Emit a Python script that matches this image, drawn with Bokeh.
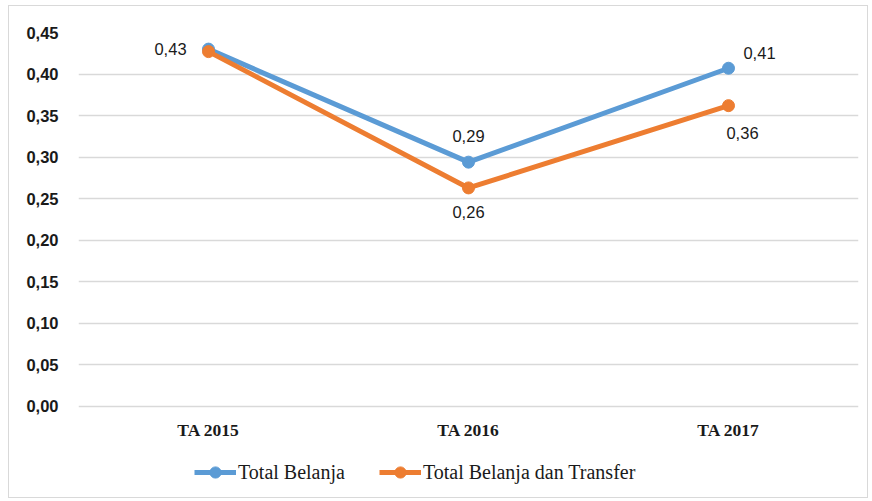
from bokeh.plotting import figure
from bokeh.models import FactorRange, Range1d, FixedTicker, CustomJSTickFormatter, Legend, LegendItem, ColumnDataSource
from bokeh.core.properties import value
from bokeh.embed import file_html
from bokeh.resources import INLINE

categories = ["TA 2015", "TA 2016", "TA 2017"]
total_belanja = [0.43, 0.294, 0.407]
total_belanja_transfer = [0.427, 0.263, 0.362]
labels_belanja = ["0,43", "0,29", "0,41"]
labels_transfer = ["", "0,26", "0,36"]
y_ticks = [0.0, 0.05, 0.10, 0.15, 0.20, 0.25, 0.30, 0.35, 0.40, 0.45]

BLUE = "#5B9BD5"
ORANGE = "#ED7D31"
TXT = "#1a1a1a"

# frame extends below the 0 line so the category labels and legend sit inside it
p = figure(x_range=FactorRange(*categories), y_range=Range1d(-0.1083, 0.45),
           width=860, height=493, output_backend="svg", toolbar_location=None,
           min_border_left=69, min_border_right=11, min_border_top=26, min_border_bottom=3)
p.styles = {"border": "1px solid #d9d9d9", "box-sizing": "border-box",
            "margin-left": "8px", "margin-top": "5px"}
p.outline_line_color = None
p.background_fill_color = "white"

p.yaxis.ticker = FixedTicker(ticks=y_ticks)
p.yaxis.formatter = CustomJSTickFormatter(code="return tick.toFixed(2).replace('.', ',');")
p.yaxis.axis_line_color = None
p.yaxis.major_tick_line_color = None
p.yaxis.minor_tick_line_color = None
p.yaxis.major_label_text_font = "Liberation Sans"
p.yaxis.major_label_text_font_style = "bold"
p.yaxis.major_label_text_font_size = "16.5px"
p.yaxis.major_label_text_color = TXT
p.yaxis.major_label_standoff = 14

p.xaxis.visible = False
p.xgrid.grid_line_color = None
p.ygrid.grid_line_color = "#d9d9d9"
p.ygrid.grid_line_width = 1.5

src = ColumnDataSource(dict(x=categories, b=total_belanja, t=total_belanja_transfer))

# category labels just under the zero line
p.text(x="x", y=0, text="x", source=src, y_offset=24, text_align="center",
       text_baseline="middle", text_font=value("Liberation Serif"),
       text_font_style="bold", text_font_size="17.5px", text_color=TXT)

l1 = p.line("x", "b", source=src, line_color=BLUE, line_width=5)
c1 = p.scatter("x", "b", source=src, size=12, fill_color=BLUE, line_color=BLUE)
l2 = p.line("x", "t", source=src, line_color=ORANGE, line_width=5)
c2 = p.scatter("x", "t", source=src, size=12, fill_color=ORANGE, line_color=ORANGE)

font = value("Liberation Sans")
bpos = [(0, -38, 0), (1, 0, -26), (2, 31, -15)]
for i, dx, dy in bpos:
    p.text(x=[categories[i]], y=[total_belanja[i]], text=[labels_belanja[i]],
           x_offset=dx, y_offset=dy, text_align="center", text_baseline="middle",
           text_font=font, text_font_size="16.5px", text_color=TXT)
tpos = [(1, 0, 24), (2, 14, 27)]
for i, dx, dy in tpos:
    p.text(x=[categories[i]], y=[total_belanja_transfer[i]], text=[labels_transfer[i]],
           x_offset=dx, y_offset=dy, text_align="center", text_baseline="middle",
           text_font=font, text_font_size="16.5px", text_color=TXT)

legend = Legend(items=[LegendItem(label="Total Belanja", renderers=[l1, c1]),
                       LegendItem(label="Total Belanja dan Transfer", renderers=[l2, c2])],
                orientation="horizontal", location=(116, 10),
                label_text_font="Liberation Serif", label_text_font_size="20px",
                label_text_color=TXT, glyph_width=42, glyph_height=28,
                spacing=34, label_standoff=2, border_line_color=None,
                background_fill_alpha=0, padding=0, margin=0)
p.add_layout(legend, "center")

open("out.html", "w").write(file_html(p, INLINE))
